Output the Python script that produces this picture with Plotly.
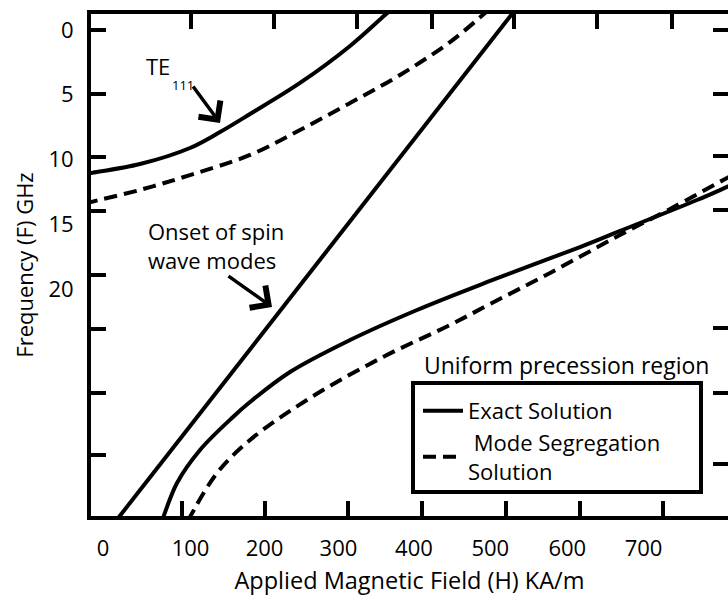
import plotly.graph_objects as go

# ---------------- data (H in KA/m, F in GHz; F axis runs downward) ----------------
te_exact_H = [-39.7, -31.8, 33.1, 99.3, 139.1, 178.8, 245.0, 311.3, 357.6, 366.9]
te_exact_F = [11.12, 11.04, 10.35, 9.11, 7.88, 6.49, 4.09, 1.23, -1.16, -1.62]

te_mode_H = [-39.7, -31.8, 33.1, 99.3, 178.8, 245.0, 311.3, 377.5, 443.7, 490.1, 499.3]
te_mode_F = [13.40, 13.28, 12.35, 11.20, 9.65, 7.72, 5.64, 3.47, 0.93, -1.31, -1.78]

onset_H = [0.0, 532.0]
onset_F = [38.0, -1.7]

up_exact_H = [61.6, 63.6, 82.1, 112.6, 156.3, 178.8, 231.8, 311.3, 400.0, 496.7, 615.9, 668.9, 770.9, 810.6, 821.2]
up_exact_F = [37.99, 37.68, 34.98, 32.43, 29.88, 28.73, 26.41, 23.94, 21.62, 19.38, 16.76, 15.52, 13.13, 12.12, 11.85]

up_mode_H = [96.7, 99.3, 135.1, 178.8, 258.3, 355.0, 443.7, 496.7, 576.2, 668.9, 735.1, 810.6, 821.2]
up_mode_F = [37.92, 37.61, 34.21, 31.66, 28.42, 25.25, 22.78, 21.16, 18.76, 15.83, 13.82, 11.43, 11.12]

# tick labels
x_tick_text = ["0", "100", "200", "300", "400", "500", "600", "700"]
y_tick_text = ["0", "5", "10", "15", "20"]

# ---------------- layout constants ----------------
W, H = 728, 596
L, R, T, B = 91, 0, 14, 80
X_RANGE = [-31.8, 811.9]
Y_RANGE = [37.53, -1.236]
x_label_pos = [-16, 100, 198, 296, 396, 497, 599, 700]
y_label_pos = [0, 5, 10, 15, 20]
x_bottom_ticks = [88.7, 198.7, 308.6, 406.6, 517.9, 615.9, 725.8]
x_top_ticks = [100.3, 210.6, 320.9, 419.5, 528.5, 638.8, 738.1]
y_left_ticks = [0.02, 4.92, 9.78, 13.98, 18.92, 23.09, 28.03, 32.82]
y_right_ticks = [0.02, 4.92, 9.73, 13.90, 23.01, 28.03, 33.51]

FONT = "Open Sans"
FS = 22
LW = 4
DASH = "13px,7px"


def hx(px):
    return X_RANGE[0] + (px - L) / (W - L - R) * (X_RANGE[1] - X_RANGE[0])


def fy(py):
    return Y_RANGE[1] + (py - T) / (H - T - B) * (Y_RANGE[0] - Y_RANGE[1])


def pxp(px):
    return (px - L) / (W - L - R)


def pyp(py):
    return (H - B - py) / (H - T - B)


fig = go.Figure()
line_solid = dict(color="black", width=LW, shape="spline", smoothing=1.0)
line_dash = dict(color="black", width=LW, shape="spline", smoothing=1.0, dash=DASH)

fig.add_trace(go.Scatter(x=te_exact_H, y=te_exact_F, mode="lines", line=line_solid,
                         showlegend=False, hoverinfo="skip"))
fig.add_trace(go.Scatter(x=te_mode_H, y=te_mode_F, mode="lines", line=line_dash,
                         showlegend=False, hoverinfo="skip"))
fig.add_trace(go.Scatter(x=onset_H, y=onset_F, mode="lines",
                         line=dict(color="black", width=LW), showlegend=False, hoverinfo="skip"))
fig.add_trace(go.Scatter(x=up_exact_H, y=up_exact_F, mode="lines", line=line_solid,
                         name="Exact Solution", hoverinfo="skip"))
fig.add_trace(go.Scatter(x=up_mode_H, y=up_mode_F, mode="lines", line=line_dash,
                         name="\u00a0Mode Segregation<br>Solution", hoverinfo="skip"))

# empty traces so the overlay axes (extra tick marks) get drawn
for xa, ya in [("x2", "y"), ("x3", "y"), ("x", "y2"), ("x", "y3")]:
    fig.add_trace(go.Scatter(x=[], y=[], xaxis=xa, yaxis=ya, showlegend=False, hoverinfo="skip"))

tick_common = dict(showgrid=False, zeroline=False, showticklabels=False,
                   ticks="inside", ticklen=15, tickwidth=LW, tickcolor="black")

fig.update_layout(
    width=W, height=H,
    margin=dict(l=L, r=R, t=T, b=B, autoexpand=False),
    paper_bgcolor="white", plot_bgcolor="white",
    font=dict(family=FONT, size=FS, color="black"),
    showlegend=True,
    xaxis=dict(range=X_RANGE, tickmode="array", tickvals=x_label_pos, ticktext=x_tick_text,
               ticks="", showgrid=False, zeroline=False, showline=True, linewidth=LW,
               linecolor="black", ticklabelstandoff=10,
               title=dict(text="Applied Magnetic Field (H) KA/m", standoff=14,
                          font=dict(family=FONT, size=23.5))),
    xaxis2=dict(range=X_RANGE, overlaying="x", anchor="y", side="bottom", tickmode="array",
                tickvals=x_bottom_ticks, showline=False, **tick_common),
    xaxis3=dict(range=X_RANGE, overlaying="x", anchor="y", side="top", tickmode="array",
                tickvals=x_top_ticks, showline=True, linewidth=LW, linecolor="black", **tick_common),
    yaxis=dict(range=Y_RANGE, tickmode="array", tickvals=y_label_pos, ticktext=y_tick_text,
               ticks="", showgrid=False, zeroline=False, showline=True, linewidth=LW,
               linecolor="black", ticklabelstandoff=9,
               title=dict(text="Frequency (F) GHz", standoff=10, font=dict(family=FONT, size=FS))),
    yaxis2=dict(range=Y_RANGE, overlaying="y", anchor="x", side="left", tickmode="array",
                tickvals=y_left_ticks, showline=False, **tick_common),
    yaxis3=dict(range=Y_RANGE, overlaying="y", anchor="x", side="right", tickmode="array",
                tickvals=y_right_ticks, showline=False, **tick_common),
    legend=dict(x=pxp(418), y=pyp(390), xanchor="left", yanchor="top",
                bgcolor="rgba(0,0,0,0)", borderwidth=0, font=dict(family=FONT, size=FS),
                traceorder="normal", itemwidth=40),
)

# legend frame (the legend heading sits above it, as in the original)
fig.add_shape(type="rect", xref="paper", yref="paper",
              x0=pxp(413), x1=pxp(701), y0=pyp(492), y1=pyp(383),
              line=dict(color="black", width=LW), fillcolor="rgba(0,0,0,0)")

txt = dict(xref="paper", yref="paper", showarrow=False, xanchor="center", yanchor="middle")
ann = [
    dict(x=pxp(566), y=pyp(365), text="Uniform precession region", font=dict(size=23), **txt),
    dict(x=pxp(146), y=pyp(245), text="Onset of spin<br>wave modes", align="left",
         font=dict(size=FS), **{**txt, "xanchor": "left"}),
    dict(x=pxp(158), y=pyp(66), text="TE", font=dict(size=FS), **txt),
    dict(x=pxp(183), y=pyp(85), text="111", font=dict(size=13), **txt),
]
arrow = dict(xref="x", yref="y", axref="x", ayref="y", text="", showarrow=True,
             arrowhead=4, arrowsize=1.5, arrowwidth=3.5, arrowcolor="black")
ann.append(dict(x=hx(220), y=fy(123), ax=hx(192), ay=fy(85), **arrow))
ann.append(dict(x=hx(272), y=fy(307), ax=hx(227), ay=fy(275), **arrow))
fig.update_layout(annotations=ann)

fig.write_html("out.html", config={"displayModeBar": False},
               post_script="document.body.style.margin='0';document.body.style.overflow='hidden';")
